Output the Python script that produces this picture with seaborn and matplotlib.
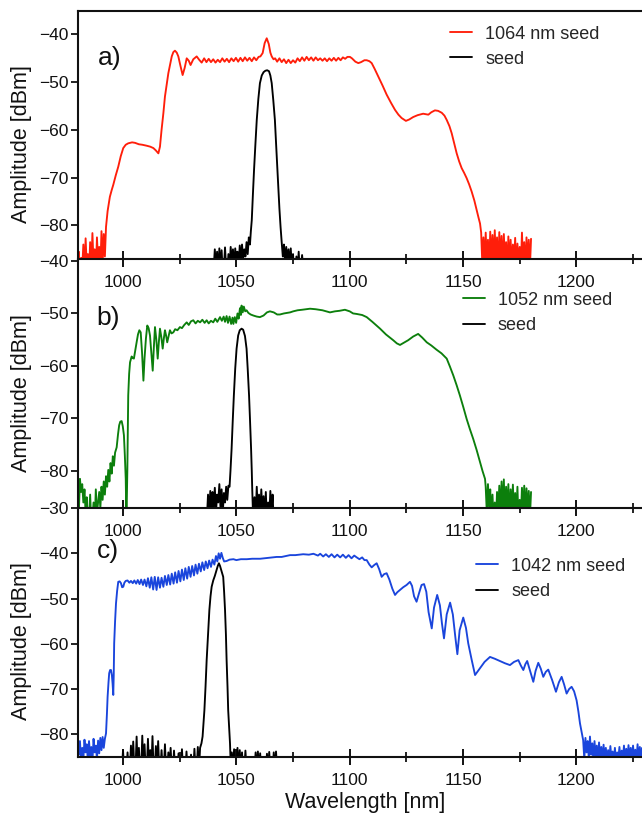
import pandas as pd
import matplotlib
matplotlib.use("Agg")
import matplotlib.pyplot as plt
import seaborn as sns
from matplotlib.ticker import MultipleLocator

# ---------------- data (wavelength nm, amplitude dBm) ----------------
panel_labels = ["a)", "b)", "c)"]
legend_labels = ["1064 nm seed", "1052 nm seed", "1042 nm seed"]
seed_label = "seed"
xlabel = "Wavelength [nm]"
ylabel = "Amplitude [dBm]"

sc_a = [
    (980.0, -88), (980.5, -85.5), (981.0, -90), (981.5, -86.8), (982.0, -89), (982.5, -84.0),
    (983.0, -90), (983.5, -82.7), (984.0, -88.5), (984.5, -86.0), (985.0, -90), (985.5, -83.5),
    (986.0, -89), (986.5, -81.6), (987.0, -88), (987.5, -85.0), (988.0, -90), (988.5, -82.5),
    (989.0, -87.5), (989.5, -84.5), (990.0, -89), (990.5, -81.2), (991.0, -88), (991.5, -81.8),
    (992.0, -86.5), (992.5, -80.3), (993.2, -77.0), (994.2, -74.0), (995.0, -72.6), (995.7, -71.5),
    (996.8, -69.5), (997.9, -67.7), (999.0, -65.5), (1000.1, -63.8), (1001.2, -63.1), (1002.3, -62.8),
    (1004.0, -62.6), (1005.3, -62.7), (1007.0, -63.0), (1008.5, -63.1), (1010.4, -63.3), (1012.0, -63.5),
    (1013.4, -63.8), (1014.5, -64.3), (1015.6, -64.9), (1016.3, -63.5), (1017.0, -60.0), (1017.8, -56.5),
    (1018.5, -53.0), (1019.3, -50.3), (1020.0, -48.1), (1020.8, -46.2), (1021.5, -44.6), (1022.2, -43.7),
    (1022.9, -43.4), (1023.7, -43.8), (1024.4, -44.6), (1025.3, -46.5), (1026.3, -48.5), (1027.2, -47.0),
    (1028.1, -45.0), (1029.0, -45.5), (1029.8, -46.4), (1031.0, -45.2), (1032.5, -44.6), (1033.6, -45.3),
    (1034.7, -45.9), (1035.8, -45.0), (1036.8, -45.8), (1037.8, -45.1), (1038.8, -45.8), (1039.8, -45.2),
    (1040.8, -45.9), (1041.8, -45.3), (1042.8, -45.8), (1043.8, -45.0), (1044.8, -45.7), (1045.8, -45.1),
    (1046.8, -45.8), (1047.8, -45.0), (1048.8, -45.6), (1049.8, -44.9), (1050.8, -45.7), (1051.8, -44.9),
    (1052.8, -45.6), (1053.8, -44.8), (1054.8, -45.5), (1055.8, -44.9), (1056.8, -45.6), (1057.8, -44.8),
    (1058.8, -45.4), (1059.8, -44.7), (1060.6, -44.6), (1061.6, -43.9), (1062.5, -41.8), (1063.4, -40.8),
    (1064.3, -42.0), (1065.0, -43.8), (1065.6, -44.6), (1066.4, -45.2), (1067.1, -45.0), (1068.0, -45.7),
    (1069.0, -45.0), (1070.0, -45.8), (1071.0, -45.2), (1072.0, -46.0), (1073.0, -45.3), (1074.0, -46.0),
    (1075.0, -45.4), (1076.0, -45.9), (1077.0, -45.0), (1078.0, -45.6), (1079.0, -44.8), (1080.0, -45.5),
    (1081.0, -44.7), (1082.0, -45.4), (1083.0, -44.8), (1084.0, -45.5), (1085.0, -44.8), (1086.0, -45.4),
    (1087.0, -45.0), (1088.0, -45.5), (1089.0, -45.0), (1090.0, -45.6), (1091.0, -45.0), (1092.0, -45.5),
    (1093.0, -44.9), (1094.0, -45.5), (1095.0, -44.9), (1096.0, -45.4), (1097.0, -44.8), (1098.0, -45.1),
    (1099.0, -44.7), (1100.1, -44.7), (1101.0, -45.0), (1102.5, -45.7), (1103.8, -46.0), (1105.0, -45.8),
    (1106.5, -45.4), (1107.5, -45.4), (1108.7, -45.6), (1109.7, -46.0), (1111.0, -47.2), (1112.6, -48.8),
    (1114.5, -50.7), (1116.3, -52.6), (1118.2, -54.3), (1120.0, -55.8), (1121.5, -56.8), (1122.9, -57.5),
    (1124.8, -58.1), (1126.3, -57.8), (1128.0, -57.3), (1130.0, -56.9), (1132.4, -56.6), (1134.7, -56.8),
    (1136.0, -56.3), (1137.6, -55.9), (1139.0, -56.0), (1140.6, -56.4), (1141.8, -57.0), (1142.8, -57.9),
    (1144.0, -59.2), (1145.0, -60.7), (1146.1, -62.8), (1147.2, -64.9), (1148.3, -66.6), (1149.4, -68.0),
    (1150.5, -69.0), (1151.6, -70.1), (1152.7, -71.4), (1153.8, -72.9), (1155.0, -74.8), (1156.0, -76.8),
    (1156.8, -78.3), (1157.5, -79.6), (1158.0, -81.5), (1158.5, -88), (1159.0, -82.5), (1159.5, -89),
    (1160.0, -81.5), (1160.5, -88), (1161.0, -83.0), (1161.5, -90), (1162.0, -81.3), (1162.5, -88.5),
    (1163.0, -82.0), (1163.5, -89), (1164.0, -81.0), (1164.5, -88), (1165.0, -82.5), (1165.5, -90),
    (1166.0, -81.4), (1166.5, -88), (1167.0, -82.2), (1167.5, -89.5), (1168.0, -81.8), (1168.5, -88),
    (1169.0, -83.5), (1169.5, -90), (1170.0, -82.3), (1170.5, -88.5), (1171.0, -83.0), (1171.5, -89),
    (1172.0, -84.0), (1172.5, -88), (1173.0, -82.6), (1173.5, -90), (1174.0, -83.8), (1174.5, -88),
    (1175.0, -84.5), (1175.5, -89), (1176.0, -81.5), (1176.5, -88.5), (1177.0, -83.5), (1177.5, -90),
    (1178.0, -82.5), (1178.5, -88), (1179.0, -83.0), (1179.5, -89), (1180.0, -82.8),
]

seed_a = [
    (1040.0, -89), (1040.5, -85.0), (1041.0, -89), (1041.5, -85.5), (1042.0, -90), (1042.5, -84.8),
    (1043.0, -89), (1043.5, -85.2), (1044.0, -90), (1044.5, -89), (1045.0, -84.6), (1045.5, -89),
    (1046.0, -90), (1046.5, -86.0), (1047.0, -89), (1047.5, -84.5), (1048.0, -88), (1048.5, -85.0),
    (1049.0, -89), (1049.5, -84.8), (1050.0, -88), (1050.5, -85.5), (1051.0, -88.5), (1051.5, -84.2),
    (1052.0, -87.5), (1052.5, -84.0), (1053.0, -87), (1053.5, -85.0), (1054.0, -86.5), (1054.5, -83.5),
    (1055.0, -86), (1055.5, -82.5), (1056.0, -84), (1056.4, -81.2), (1056.8, -78.9), (1057.3, -73.5),
    (1057.8, -68.4), (1058.4, -63.0), (1059.0, -57.9), (1059.7, -53.5), (1060.4, -50.2), (1061.2, -48.6),
    (1062.0, -47.9), (1062.8, -47.6), (1063.6, -47.5), (1064.4, -47.7), (1065.0, -48.6), (1065.6, -50.2),
    (1066.3, -53.8), (1067.0, -57.9), (1067.7, -64.5), (1068.5, -71.9), (1069.0, -76.5), (1069.5, -80.3),
    (1070.0, -83.5), (1070.5, -86.5), (1071.0, -84.0), (1071.5, -88), (1072.0, -84.5), (1072.5, -87.5),
    (1073.0, -85.0), (1073.5, -88.5), (1074.0, -84.8), (1074.5, -89), (1075.0, -86.0), (1075.5, -90),
    (1076.0, -89), (1076.5, -86.5), (1077.0, -90), (1077.5, -85.5), (1078.0, -90), (1078.5, -89),
    (1079.0, -86.2), (1079.5, -89), (1080.0, -90),
]

sc_b = [
    (980.5, -88), (981.0, -81.5), (981.5, -84.0), (982.0, -82.5), (982.5, -86.0), (983.0, -83.5),
    (983.5, -88), (984.0, -85.0), (984.5, -90), (985.0, -89), (985.5, -84.5), (986.0, -90),
    (986.5, -89), (987.0, -86.0), (987.5, -90), (988.0, -83.5), (988.5, -88), (989.0, -86.0),
    (989.5, -84.0), (990.0, -87), (990.5, -83.0), (991.0, -85.5), (991.5, -82.0), (992.0, -84.5),
    (992.5, -81.0), (993.0, -83.0), (993.5, -79.8), (994.0, -82.0), (994.5, -78.5), (995.0, -80.5),
    (995.5, -77.2), (996.0, -79.0), (996.5, -76.5), (997.2, -75.5), (997.8, -73.0), (998.3, -71.3),
    (998.8, -70.6), (999.4, -70.5), (999.9, -71.5), (1000.4, -73.2), (1000.8, -77.0), (1001.2, -81.5),
    (1001.5, -90), (1001.9, -80.0), (1002.3, -65.6), (1002.7, -61.5), (1003.1, -59.3), (1003.8, -58.2),
    (1004.3, -58.5), (1004.8, -58.6), (1005.4, -57.0), (1006.0, -55.5), (1006.6, -54.0), (1007.2, -53.2),
    (1007.8, -53.6), (1008.4, -57.5), (1009.0, -62.8), (1009.5, -58.5), (1010.1, -54.8), (1010.7, -52.3),
    (1011.3, -52.8), (1011.9, -54.2), (1012.5, -57.5), (1013.1, -60.9), (1013.6, -56.5), (1014.1, -52.6),
    (1014.7, -55.0), (1015.3, -58.6), (1015.8, -55.5), (1016.3, -52.9), (1016.9, -54.5), (1017.5, -56.7),
    (1018.0, -54.8), (1018.5, -53.2), (1019.0, -54.2), (1019.5, -55.5), (1020.1, -54.3), (1020.7, -53.2),
    (1021.4, -53.8), (1022.2, -53.6), (1023.0, -53.0), (1024.0, -53.2), (1025.1, -52.6), (1026.0, -52.8),
    (1027.0, -52.2), (1028.1, -51.7), (1029.0, -52.2), (1030.0, -51.5), (1031.0, -51.3), (1032.0, -51.9),
    (1033.0, -51.4), (1034.0, -51.7), (1035.0, -51.2), (1036.0, -51.8), (1036.9, -51.3), (1037.8, -51.9),
    (1038.8, -51.4), (1039.8, -51.7), (1040.7, -51.0), (1041.6, -51.6), (1042.8, -50.7), (1043.6, -51.4),
    (1044.4, -50.6), (1045.0, -51.6), (1045.7, -50.5), (1046.3, -51.8), (1047.0, -50.6), (1047.7, -52.0),
    (1048.3, -50.8), (1048.7, -52.0), (1049.3, -50.7), (1049.9, -51.8), (1050.5, -50.0), (1051.0, -51.0),
    (1051.6, -49.0), (1052.0, -50.3), (1052.3, -48.5), (1052.8, -49.8), (1053.3, -48.7), (1053.9, -49.6),
    (1054.5, -49.4), (1055.3, -49.9), (1056.3, -50.2), (1057.5, -50.4), (1059.0, -50.6), (1060.4, -50.7),
    (1062.0, -50.4), (1063.5, -49.8), (1064.8, -49.6), (1066.5, -49.8), (1068.0, -50.2), (1069.2, -50.2),
    (1071.0, -50.0), (1073.7, -49.8), (1075.1, -49.6), (1077.0, -49.4), (1079.0, -49.3), (1082.5, -49.1),
    (1085.0, -49.2), (1088.0, -49.4), (1091.3, -49.8), (1093.5, -49.6), (1095.5, -49.5), (1097.9, -49.3),
    (1100.0, -49.6), (1101.5, -50.0), (1103.1, -50.1), (1105.5, -50.3), (1107.5, -50.7), (1110.0, -51.6),
    (1113.4, -52.9), (1116.0, -54.0), (1119.2, -55.1), (1120.8, -55.7), (1122.2, -56.0), (1123.8, -55.6),
    (1125.8, -55.1), (1128.0, -54.4), (1130.2, -53.9), (1132.0, -54.6), (1134.0, -55.5), (1136.0, -56.1),
    (1138.3, -56.9), (1140.5, -57.6), (1142.8, -58.6), (1144.2, -60.1), (1145.7, -61.8), (1147.2, -63.7),
    (1148.6, -65.6), (1150.1, -67.8), (1151.6, -70.1), (1153.0, -72.0), (1154.5, -73.9), (1156.0, -76.0),
    (1157.5, -78.3), (1158.6, -80.0), (1159.7, -81.5), (1160.0, -83.0), (1160.5, -88), (1161.0, -82.5),
    (1161.5, -87), (1162.0, -83.5), (1162.5, -89), (1163.0, -84.5), (1163.5, -90), (1164.0, -86.0),
    (1164.5, -90), (1165.0, -84.0), (1165.5, -88), (1166.0, -82.8), (1166.5, -89), (1167.0, -82.0),
    (1167.5, -88), (1168.0, -81.6), (1168.5, -89), (1169.0, -83.0), (1169.5, -88), (1170.0, -82.5),
    (1170.5, -90), (1171.0, -83.5), (1171.5, -88), (1172.0, -82.6), (1172.5, -89), (1173.0, -84.2),
    (1173.5, -88.5), (1174.0, -83.0), (1174.5, -90), (1175.0, -85.5), (1175.5, -89), (1176.0, -83.2),
    (1176.5, -88), (1177.0, -82.8), (1177.5, -89), (1178.0, -83.3), (1178.5, -88), (1179.0, -83.8),
    (1179.5, -89), (1180.0, -84.0),
]

seed_b = [
    (1037.0, -89), (1037.5, -84.5), (1038.0, -88), (1038.5, -83.8), (1039.0, -89), (1039.5, -84.0),
    (1040.0, -87), (1040.5, -83.2), (1041.0, -88), (1041.5, -84.5), (1042.0, -86), (1042.5, -82.5),
    (1043.0, -87), (1043.5, -83.5), (1044.0, -88), (1044.5, -84.2), (1045.0, -86), (1045.5, -83.0),
    (1046.0, -85.5), (1046.5, -82.8), (1047.0, -83), (1047.4, -80.0), (1047.9, -75.8), (1048.4, -70.5),
    (1048.9, -65.6), (1049.5, -60.5), (1050.1, -56.7), (1050.8, -54.2), (1051.5, -53.2), (1052.3, -52.9),
    (1053.0, -53.1), (1053.8, -54.3), (1054.5, -56.7), (1055.0, -60.5), (1055.6, -65.6), (1056.0, -70.0),
    (1056.5, -75.8), (1056.8, -80.0), (1057.0, -83.4), (1057.4, -89), (1058.0, -85.0), (1058.5, -89),
    (1059.0, -83.0), (1059.5, -88), (1060.0, -84.5), (1060.5, -89), (1061.0, -83.5), (1061.5, -88),
    (1062.0, -84.8), (1062.5, -89), (1063.0, -84.0), (1063.5, -90), (1064.0, -86.0), (1064.5, -89),
    (1065.0, -83.8), (1065.5, -88), (1066.0, -84.5), (1066.5, -90),
]

sc_c = [
    (980.0, -82.0), (980.5, -84.5), (981.0, -81.5), (981.5, -86), (982.0, -83.0), (982.5, -85.5),
    (983.0, -81.2), (983.5, -84.0), (984.0, -82.2), (984.5, -86), (985.0, -81.5), (985.5, -84.8),
    (986.0, -82.8), (986.5, -86), (987.0, -81.0), (987.5, -84.0), (988.0, -82.5), (988.5, -85.5),
    (989.0, -81.4), (989.5, -84.2), (990.0, -80.8), (990.5, -83.5), (991.0, -80.6), (991.5, -83.0),
    (992.0, -81.0), (992.5, -79.8), (992.9, -75.5), (993.2, -71.7), (993.6, -68.5), (993.9, -66.5),
    (994.3, -65.8), (994.7, -65.8), (995.1, -67.0), (995.4, -68.8), (995.7, -71.3), (995.9, -67.0),
    (996.1, -59.9), (996.5, -55.0), (996.9, -51.1), (997.4, -48.3), (997.9, -46.3), (998.5, -46.2),
    (999.1, -46.6), (999.6, -47.5), (1000.1, -47.4), (1000.6, -46.5), (1001.2, -46.1), (1002.0, -46.0),
    (1002.8, -46.5), (1003.5, -46.1), (1004.3, -46.6), (1005.0, -46.0), (1005.8, -46.7), (1006.5, -45.9),
    (1007.3, -46.8), (1008.0, -45.8), (1008.8, -47.0), (1009.5, -45.8), (1010.3, -47.3), (1011.0, -45.5),
    (1011.8, -47.6), (1012.5, -45.3), (1013.3, -48.0), (1014.0, -45.2), (1014.8, -48.1), (1015.5, -45.3),
    (1016.3, -47.6), (1017.0, -45.4), (1017.8, -47.4), (1018.5, -45.0), (1019.3, -47.0), (1020.0, -44.8),
    (1020.8, -46.9), (1021.5, -44.5), (1022.3, -46.7), (1023.0, -44.2), (1023.8, -46.5), (1024.5, -43.9),
    (1025.3, -46.2), (1026.0, -43.6), (1026.8, -45.9), (1027.5, -43.3), (1028.3, -45.6), (1029.0, -43.0),
    (1029.8, -45.2), (1030.5, -42.8), (1031.3, -44.9), (1032.0, -42.5), (1032.8, -44.5), (1033.5, -42.3),
    (1034.3, -44.0), (1035.0, -42.0), (1035.8, -43.7), (1036.5, -41.8), (1037.3, -43.3), (1038.0, -41.6),
    (1038.8, -43.0), (1039.5, -41.4), (1040.3, -42.5), (1041.0, -40.6), (1041.6, -41.8), (1042.2, -40.0),
    (1042.8, -41.2), (1043.4, -39.9), (1044.0, -41.0), (1044.6, -41.8), (1045.7, -41.7), (1047.0, -41.4),
    (1048.7, -41.3), (1050.0, -41.5), (1052.0, -41.3), (1054.6, -41.3), (1057.0, -41.2), (1060.5, -41.2),
    (1064.0, -41.0), (1067.8, -40.8), (1070.0, -40.8), (1073.7, -40.4), (1076.0, -40.4), (1079.5, -40.2),
    (1082.0, -40.3), (1084.0, -40.1), (1086.0, -40.5), (1087.0, -40.1), (1088.3, -40.7), (1089.5, -40.2),
    (1090.8, -40.8), (1092.0, -40.2), (1093.3, -40.9), (1094.5, -40.3), (1095.8, -40.9), (1097.0, -40.3),
    (1098.3, -41.0), (1099.5, -40.4), (1100.8, -41.1), (1102.0, -40.5), (1103.1, -40.9), (1104.3, -41.3),
    (1105.5, -40.9), (1106.5, -41.5), (1107.5, -41.5), (1108.7, -42.5), (1109.7, -43.1), (1110.8, -42.6),
    (1111.9, -42.2), (1113.0, -43.5), (1114.1, -45.2), (1115.2, -44.6), (1116.3, -44.4), (1117.5, -45.8),
    (1118.8, -47.8), (1120.0, -49.2), (1121.0, -48.6), (1122.2, -48.1), (1123.6, -47.5), (1125.1, -47.0),
    (1126.6, -46.3), (1127.5, -47.2), (1128.4, -49.5), (1129.5, -50.7), (1130.6, -48.8), (1131.7, -47.0),
    (1132.8, -46.8), (1133.8, -48.5), (1134.8, -53.0), (1136.2, -56.6), (1137.2, -52.0), (1138.6, -49.2),
    (1139.8, -51.5), (1140.7, -55.5), (1141.6, -58.8), (1142.8, -53.5), (1144.3, -50.9), (1145.5, -53.5),
    (1146.6, -58.5), (1147.5, -62.3), (1148.5, -57.0), (1150.1, -54.2), (1151.3, -56.5), (1152.3, -59.9),
    (1153.8, -63.5), (1155.3, -66.9), (1156.3, -66.2), (1157.5, -65.4), (1159.5, -64.0), (1161.9, -62.9),
    (1164.0, -63.3), (1166.3, -63.8), (1168.5, -64.3), (1170.7, -64.7), (1172.5, -64.0), (1174.4, -63.6),
    (1175.5, -64.8), (1176.6, -65.8), (1177.5, -64.5), (1178.3, -63.8), (1179.6, -66.0), (1181.0, -68.4),
    (1182.0, -66.0), (1183.2, -64.2), (1184.3, -65.5), (1185.4, -67.3), (1186.5, -66.2), (1187.6, -65.7),
    (1189.3, -68.0), (1191.0, -70.6), (1192.3, -68.5), (1193.5, -67.3), (1194.6, -69.0), (1195.7, -71.0),
    (1196.8, -70.0), (1197.9, -69.5), (1199.0, -70.5), (1200.1, -72.5), (1200.9, -75.0), (1201.6, -77.6),
    (1202.3, -79.5), (1203.0, -81.3), (1203.5, -85.5), (1204.0, -80.8), (1204.5, -84.0), (1205.0, -81.5),
    (1205.5, -85.5), (1206.0, -80.5), (1206.5, -84.5), (1207.0, -82.0), (1207.5, -86), (1208.0, -81.5),
    (1208.5, -84.8), (1209.0, -82.5), (1209.5, -86), (1210.0, -81.8), (1210.5, -85.0), (1211.0, -82.8),
    (1211.5, -86), (1212.0, -82.3), (1212.5, -85.5), (1213.0, -83.0), (1213.5, -86), (1214.0, -83.5),
    (1214.5, -86), (1215.0, -82.6), (1215.5, -85.5), (1216.0, -83.8), (1216.5, -86), (1217.0, -83.0),
    (1217.5, -86), (1218.0, -84.0), (1218.5, -85.5), (1219.0, -82.8), (1219.5, -86), (1220.0, -83.6),
    (1220.5, -85.5), (1221.0, -82.5), (1221.5, -86), (1222.0, -83.2), (1222.5, -85.8), (1223.0, -82.4),
    (1223.5, -85.5), (1224.0, -83.0), (1224.5, -86), (1225.0, -82.5), (1225.5, -85.5), (1226.0, -83.4),
    (1226.5, -86), (1227.0, -82.2), (1227.5, -85.5), (1228.0, -82.8), (1228.5, -86), (1229.0, -83.0),
    (1229.5, -85.5), (1230.0, -82.6),
]

seed_c = [
    (999.5, -88), (1000.0, -83.5), (1000.5, -88), (1001.5, -88), (1002.0, -84.0), (1002.5, -88),
    (1003.0, -88), (1003.5, -82.5), (1004.0, -88), (1004.5, -81.6), (1005.0, -88), (1005.5, -88),
    (1006.0, -80.5), (1006.5, -88), (1007.0, -83.0), (1007.5, -88), (1008.0, -88), (1008.5, -80.3),
    (1009.0, -88), (1009.5, -82.2), (1010.0, -88), (1010.5, -88), (1011.0, -81.0), (1011.5, -88),
    (1012.0, -83.5), (1012.5, -88), (1013.0, -80.4), (1013.5, -88), (1014.0, -88), (1014.5, -82.6),
    (1015.0, -88), (1015.5, -81.5), (1016.0, -88), (1016.5, -88), (1017.0, -83.5), (1017.5, -88),
    (1018.0, -88), (1018.5, -82.2), (1019.0, -88), (1019.5, -88), (1020.0, -84.0), (1020.5, -88),
    (1021.0, -83.0), (1021.5, -88), (1022.0, -88), (1022.5, -83.6), (1023.0, -88), (1024.0, -88),
    (1024.5, -84.2), (1025.0, -88), (1025.5, -88), (1026.0, -83.3), (1026.5, -88), (1027.5, -88),
    (1028.0, -83.8), (1028.5, -88), (1029.5, -88), (1030.0, -84.5), (1030.5, -88), (1031.0, -88),
    (1031.5, -83.2), (1032.0, -88), (1032.5, -88), (1033.0, -82.8), (1033.5, -88), (1034.0, -83.0),
    (1034.6, -82.0), (1035.1, -80.5), (1035.5, -77.5), (1035.9, -74.7), (1036.4, -69.5), (1036.9, -63.6),
    (1037.5, -58.0), (1038.1, -52.5), (1038.6, -49.5), (1039.1, -47.4), (1039.8, -46.0), (1040.5, -45.0),
    (1041.2, -43.8), (1041.8, -42.8), (1042.3, -42.2), (1042.8, -42.8), (1043.5, -44.0), (1044.2, -45.2),
    (1044.6, -48.5), (1045.0, -52.5), (1045.4, -58.0), (1045.7, -63.6), (1046.1, -69.5), (1046.4, -74.7),
    (1046.8, -78.5), (1047.2, -82.0), (1047.6, -88), (1048.0, -84.0), (1048.5, -88), (1049.0, -83.3),
    (1049.5, -88), (1050.0, -88), (1050.5, -83.0), (1051.0, -88), (1051.5, -83.5), (1052.0, -88),
    (1052.5, -84.0), (1053.0, -88), (1053.5, -88), (1054.0, -83.6), (1054.5, -88), (1055.0, -88),
    (1056.0, -88), (1057.0, -88), (1058.0, -88), (1058.5, -84.0), (1059.0, -88), (1059.5, -83.8),
    (1060.0, -88), (1060.5, -84.2), (1061.0, -88), (1062.0, -88), (1063.0, -88), (1063.5, -84.3),
    (1064.0, -88), (1064.5, -83.9), (1065.0, -88), (1066.0, -88), (1066.5, -84.0), (1067.0, -88),
    (1067.5, -83.8), (1068.0, -88), (1069.0, -88),
]

# ---------------- style / layout ----------------
sns.set_theme(style="ticks")
plt.rcParams['font.family'] = ['Liberation Sans', 'DejaVu Sans']
plt.rcParams['axes.unicode_minus'] = True

sc_colors = ["#ff1e0a", "#0c7f0c", "#1a45dc"]
seed_color = "#000000"
ylims = [(-87.1, -35.0), (-87.1, -39.73), (-84.95, -29.97)]
panel_bottoms = [0.6814, 0.3756, 0.0704]
panel_height = 0.3056
ax_left, ax_width = 0.121, 0.918
label_xy = [(988.9, 0.809), (988.2, 0.766), (988.5, 0.825)]
legend_anchor = [(0.7009, 0.9685), (0.7207, 0.6415), (0.7414, 0.3148)]

fig = plt.figure(figsize=(6.42, 8.14), dpi=100)
fig.patch.set_facecolor("white")

sc_sets = [sc_a, sc_b, sc_c]
seed_sets = [seed_a, seed_b, seed_c]

for i in range(3):
    ax = fig.add_axes([ax_left, panel_bottoms[i], ax_width, panel_height])
    ax.set_facecolor("none")
    df_sc = pd.DataFrame(sc_sets[i], columns=["wl", "db"])
    df_seed = pd.DataFrame(seed_sets[i], columns=["wl", "db"])
    sns.lineplot(data=df_sc, x="wl", y="db", ax=ax, color=sc_colors[i], linewidth=1.35,
                 estimator=None, sort=False, label=legend_labels[i])
    sns.lineplot(data=df_seed, x="wl", y="db", ax=ax, color=seed_color, linewidth=1.35,
                 estimator=None, sort=False, label=seed_label)
    ax.set_xlim(980, 1240)
    ax.set_ylim(*ylims[i])
    ax.xaxis.set_major_locator(MultipleLocator(50))
    ax.xaxis.set_minor_locator(MultipleLocator(25))
    ax.yaxis.set_major_locator(MultipleLocator(10))
    ax.tick_params(axis="x", which="major", direction="inout", length=12, width=1.4,
                   labelsize=12.5, pad=5.5, colors="#111111")
    ax.tick_params(axis="x", which="minor", direction="inout", length=7, width=1.3, colors="#111111")
    ax.tick_params(axis="y", which="major", direction="out", length=5, width=1.3,
                   labelsize=12.5, pad=1.5, colors="#111111")
    for s in ["left", "bottom", "top"]:
        ax.spines[s].set_linewidth(1.5)
        ax.spines[s].set_color("#111111")
    ax.spines["right"].set_visible(False)
    if i > 0:
        ax.spines["top"].set_visible(False)
    ax.set_ylabel(ylabel, fontsize=15.5, color="#111111")
    ax.yaxis.set_label_coords(-0.0775, 0.464)
    if i == 2:
        ax.set_xlabel(xlabel, fontsize=15.5, color="#111111")
        ax.xaxis.set_label_coords(0.4875, -0.142)
    else:
        ax.set_xlabel("")
    ax.text(label_xy[i][0], label_xy[i][1], panel_labels[i], transform=ax.get_xaxis_transform(),
            fontsize=19, ha="left", va="center", color="#111111")
    ax.legend(loc="upper left", bbox_to_anchor=legend_anchor[i], bbox_transform=fig.transFigure,
              frameon=False, fontsize=13, handlelength=1.22, handletextpad=0.72,
              labelspacing=0.45, borderpad=0, borderaxespad=0)

fig.savefig("out.png", dpi=100)
